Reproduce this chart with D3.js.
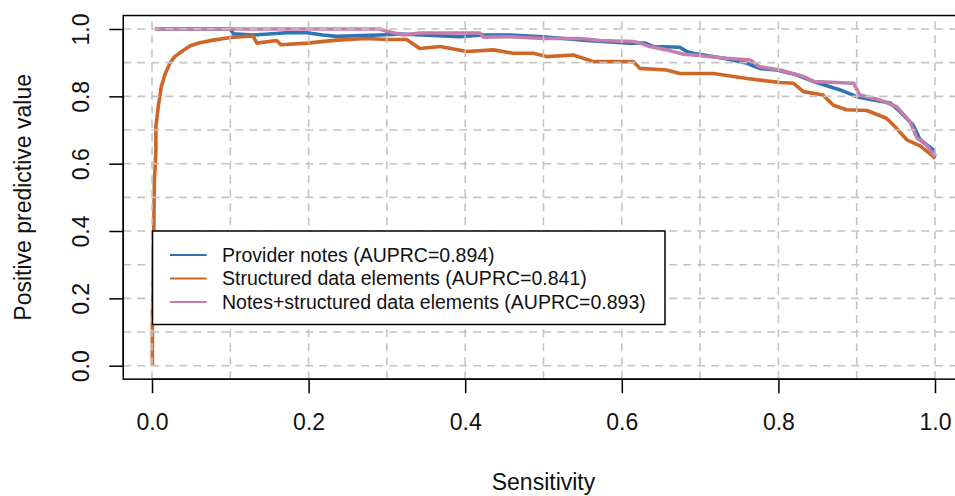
<!DOCTYPE html>
<html>
<head>
<meta charset="utf-8">
<script src="https://cdn.jsdelivr.net/npm/d3@7"></script>
<style>
html,body{margin:0;padding:0;background:#fff;}
svg{display:block;font-family:"Liberation Sans",Arial,sans-serif;}
</style>
</head>
<body>
<svg id="chart" width="955" height="496"></svg>
<script>
// ---- data (sensitivity, PPV) ----
const seriesNames = ["Provider notes (AUPRC=0.894)", "Structured data elements (AUPRC=0.841)", "Notes+structured data elements (AUPRC=0.893)"];
const seriesColors = ["#2e74b5", "#cd6627", "#c77da9"];

const providerSens = [0.004,0.100,0.104,0.129,0.172,0.198,0.218,0.236,0.300,0.317,0.393,0.423,0.457,0.499,0.555,0.610,0.630,0.640,0.674,0.683,0.691,0.730,0.760,0.776,0.798,0.823,0.845,0.879,0.900,0.921,0.943,0.955,0.972,0.981,0.998,1.000];
const providerPPV  = [1.000,1.000,0.986,0.982,0.989,0.989,0.982,0.978,0.983,0.985,0.977,0.982,0.982,0.977,0.966,0.958,0.958,0.948,0.946,0.933,0.928,0.913,0.898,0.883,0.878,0.864,0.844,0.819,0.799,0.789,0.780,0.755,0.715,0.671,0.641,0.621];

const structSens = [0.0005,0.0005,0.002,0.003,0.004,0.005,0.005,0.008,0.012,0.017,0.023,0.029,0.038,0.049,0.061,0.078,0.100,0.129,0.134,0.159,0.165,0.198,0.236,0.274,0.300,0.325,0.342,0.368,0.402,0.436,0.461,0.487,0.504,0.538,0.564,0.615,0.623,0.657,0.674,0.717,0.760,0.802,0.819,0.832,0.857,0.870,0.887,0.913,0.938,0.951,0.964,0.981,0.998,1.000];
const structPPV  = [0.000,0.130,0.350,0.550,0.590,0.640,0.710,0.770,0.830,0.868,0.898,0.918,0.933,0.950,0.959,0.967,0.975,0.979,0.958,0.966,0.953,0.958,0.967,0.972,0.969,0.969,0.942,0.948,0.933,0.938,0.928,0.928,0.918,0.923,0.903,0.903,0.883,0.878,0.868,0.868,0.853,0.841,0.839,0.814,0.804,0.774,0.760,0.758,0.735,0.705,0.671,0.653,0.621,0.615];

const combinedSens = [0.004,0.291,0.300,0.321,0.342,0.419,0.423,0.457,0.500,0.547,0.572,0.615,0.623,0.636,0.657,0.679,0.691,0.734,0.764,0.776,0.802,0.832,0.845,0.896,0.904,0.930,0.951,0.968,0.977,0.989,1.000];
const combinedPPV  = [1.000,1.000,0.993,0.982,0.988,0.988,0.976,0.977,0.972,0.972,0.966,0.963,0.958,0.948,0.938,0.925,0.923,0.913,0.908,0.888,0.878,0.859,0.844,0.839,0.804,0.789,0.769,0.725,0.676,0.656,0.621];

const xTicks = [0, 0.2, 0.4, 0.6, 0.8, 1.0];
const yTicks = [0, 0.2, 0.4, 0.6, 0.8, 1.0];
const gridValues = [0,0.1,0.2,0.3,0.4,0.5,0.6,0.7,0.8,0.9,1.0];
const xLabel = "Sensitivity";
const yLabel = "Positive predictive value";

// ---- layout ----
const svg = d3.select("#chart");
const x = d3.scaleLinear().domain([0, 1]).range([152, 935]);
const y = d3.scaleLinear().domain([0, 1]).range([365.7, 29]);
const xlim = [-0.0367, 1.04];
const ylim = [-0.04, 1.04];

svg.append("rect").attr("width", 955).attr("height", 496).attr("fill", "#fff");

const series = [
  {sens: providerSens, ppv: providerPPV},
  {sens: structSens, ppv: structPPV},
  {sens: combinedSens, ppv: combinedPPV}
];

const line = d3.line().x(d => x(d[0])).y(d => y(d[1]));
series.forEach((s, i) => {
  const pts = s.sens.map((v, j) => [v, s.ppv[j]]);
  svg.append("path")
    .attr("d", line(pts))
    .attr("fill", "none")
    .attr("stroke", seriesColors[i])
    .attr("stroke-width", 3.6)
    .attr("stroke-linejoin", "round");
});

// grid (drawn over the curves, as in the reference)
const grid = svg.append("g").attr("stroke", "#c4c4c4").attr("stroke-width", 1.6).attr("stroke-dasharray", "8,6");
gridValues.forEach(v => {
  grid.append("line").attr("x1", x(v)).attr("x2", x(v)).attr("y1", y(ylim[0])).attr("y2", y(ylim[1]));
  grid.append("line").attr("x1", x(xlim[0])).attr("x2", x(xlim[1])).attr("y1", y(v)).attr("y2", y(v));
});

// box
svg.append("rect")
  .attr("x", x(xlim[0])).attr("y", y(ylim[1]))
  .attr("width", x(xlim[1]) - x(xlim[0])).attr("height", y(ylim[0]) - y(ylim[1]))
  .attr("fill", "none").attr("stroke", "#000").attr("stroke-width", 1.5);

// axes
const xAxis = d3.axisBottom(x).tickValues(xTicks).tickFormat(d3.format(".1f")).tickSize(14).tickPadding(20);
const gx = svg.append("g").attr("transform", `translate(0,${y(ylim[0])})`).call(xAxis);
gx.select(".domain").attr("stroke", "#000").attr("stroke-width", 1.5).attr("d", `M${x(0)},0H${x(1)}`);
gx.selectAll(".tick line").attr("stroke", "#000").attr("stroke-width", 1.5);
gx.selectAll(".tick text").attr("font-size", 23).attr("fill", "#111").attr("font-family", "Liberation Sans, Arial, sans-serif").attr("dy", "0.72em");

const yAxis = d3.axisLeft(y).tickValues(yTicks).tickFormat(d3.format(".1f")).tickSize(14).tickPadding(0);
const gy = svg.append("g").attr("transform", `translate(${x(xlim[0])},0)`).call(yAxis);
gy.select(".domain").attr("stroke", "#000").attr("stroke-width", 1.5).attr("d", `M0,${y(0)}V${y(1)}`);
gy.selectAll(".tick line").attr("stroke", "#000").attr("stroke-width", 1.5);
gy.selectAll(".tick text")
  .attr("font-size", 23).attr("fill", "#111").attr("font-family", "Liberation Sans, Arial, sans-serif")
  .attr("x", null).attr("dy", null)
  .attr("text-anchor", "middle")
  .attr("transform", "translate(-34,0) rotate(-90)");

// axis titles
svg.append("text").attr("x", (x(0) + x(1)) / 2).attr("y", 490)
  .attr("text-anchor", "middle").attr("font-size", 23).attr("fill", "#111").text(xLabel);
svg.append("text").attr("transform", `translate(31,${(y(0) + y(1)) / 2}) rotate(-90)`)
  .attr("text-anchor", "middle").attr("font-size", 23).attr("fill", "#111").text(yLabel);

// legend
const lg = svg.append("g");
lg.append("rect").attr("x", 152.5).attr("y", 231).attr("width", 512.5).attr("height", 93.5)
  .attr("fill", "#fff").attr("stroke", "#000").attr("stroke-width", 1.5);
const rowY = [255, 278.5, 302];
seriesNames.forEach((n, i) => {
  lg.append("line").attr("x1", 170).attr("x2", 206.7).attr("y1", rowY[i]).attr("y2", rowY[i])
    .attr("stroke", seriesColors[i]).attr("stroke-width", 2);
  lg.append("text").attr("x", 222).attr("y", rowY[i]).attr("dy", "0.35em")
    .attr("font-size", 19.5).attr("fill", "#111").text(n);
});
</script>
</body>
</html>
